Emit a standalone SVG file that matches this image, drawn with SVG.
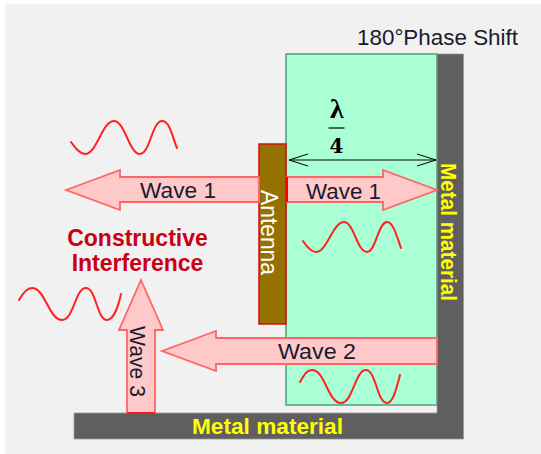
<svg xmlns="http://www.w3.org/2000/svg" width="541" height="454" viewBox="0 0 541 454">
<style>
text{font-family:"Liberation Sans",Arial,sans-serif}
.arrow{fill:#ffc9c9;stroke:#ff6464;stroke-width:1.8}
.wave{fill:none;stroke:#f22;stroke-width:2;stroke-linecap:round}
.wl{font-size:22px;fill:#1a1a2e}
.metal{fill:#5f5f5f;stroke:#999;stroke-width:.8}
.y{fill:#ff0;font-size:22px;font-weight:bold}
.r{fill:#c80014;font-size:23px;font-weight:bold;text-anchor:middle}
</style>
<defs><marker id="open" markerWidth="22" markerHeight="16" refX="20" refY="8" orient="auto-start-reverse" markerUnits="userSpaceOnUse"><path d="M1 2L20 8L1 14" fill="none" stroke="#000" stroke-width="1"/></marker></defs>
<rect width="541" height="454" fill="#fff"/>
<rect x="5" y="4" width="536" height="450" fill="#f1f1f1"/>
<g id="dielectric"><rect x="286" y="54" width="151" height="351" fill="#abffd5" stroke="#3f8f68" stroke-width="1.3"/></g>
<g id="metal-vertical"><path class="metal" d="M437 54H463.500V439H74V413H437Z"/><text class="y" transform="translate(441,163) rotate(90)" textLength="138" lengthAdjust="spacingAndGlyphs">Metal material</text></g>
<g id="metal-horizontal"><text class="y" x="192" y="433.500" textLength="151" lengthAdjust="spacingAndGlyphs">Metal material</text></g>
<g id="antenna"><rect x="259" y="144" width="27" height="180" fill="#967000" stroke="#d01010" stroke-width="1.500"/><text transform="translate(261,190) rotate(90)" fill="#fff" font-size="24" textLength="85" lengthAdjust="spacingAndGlyphs">Antenna</text></g>
<g id="phase-label"><text x="357" y="45" font-size="22" fill="#1a1a2e" textLength="161" lengthAdjust="spacingAndGlyphs">180°Phase Shift</text></g>
<g id="lambda-label"><text x="337" y="117.500" text-anchor="middle" font-size="28" font-weight="bold" style="font-family:'Liberation Serif',serif" fill="#000">λ</text><path d="M328.500 128H344.500" stroke="#000" stroke-width="1.200"/><text x="336.500" y="153" text-anchor="middle" font-size="20" font-weight="bold" style="font-family:'DejaVu Serif',serif" fill="#000">4</text></g>
<g id="interference-label"><text class="r" x="137.500" y="246">Constructive</text><text class="r" x="137.500" y="271">Interference</text></g>
<g id="wave-1-left"><path class="arrow" d="M66 190L120 170V177H259V202H120V210Z"/><text class="wl" x="140" y="198" textLength="76" lengthAdjust="spacingAndGlyphs">Wave 1</text></g>
<g id="wave-1-right"><path class="arrow" d="M287 177H383V170L437 190L383 210V202H287Z"/><path d="M287 177V202" stroke="#f00" stroke-width="2"/><text class="wl" x="306" y="198.500" textLength="75" lengthAdjust="spacingAndGlyphs">Wave 1</text></g>
<g id="wave-2"><path class="arrow" d="M162 351L216 331V338H437V364H216V371Z"/><text class="wl" x="278" y="358.500" textLength="78" lengthAdjust="spacingAndGlyphs">Wave 2</text></g>
<g id="wave-3"><path class="arrow" d="M141 280L163 330H155V413H127V330H119Z"/><path d="M127 413H155" stroke="#f00" stroke-width="1.500"/><text class="wl" transform="translate(130,326) rotate(90)" textLength="71" lengthAdjust="spacingAndGlyphs">Wave 3</text></g>
<g id="connectors"><line x1="289" y1="160" x2="436" y2="160" stroke="#000" stroke-width="1.200" marker-start="url(#open)" marker-end="url(#open)"/></g>
<g id="sine-waves">
<path class="wave" d="M71 142C76 149 80 154 85 154C97 154 102 121 114 121C125 121 129 154 140 154C150 154 152 121 162 121C170 121 172 136 177 148"/>
<path class="wave" d="M303 241C307 247 311 252 316 252C327 252 333 222 344 222C354 222 357 252 367 252C376 252 378 222 387 222C393 222 396 234 401 248"/>
<path class="wave" d="M300 382C304 375 307 370 312 370C325 370 328 403 341 403C353 403 355 370 366 370C376 370 377 403 387 403C393 403 396 390 400 375"/>
<path class="wave" d="M19 300C23 293 27 288 32 288C45 288 49 320 62 320C74 320 75 288 86 288C96 288 97 320 107 320C113 320 118 308 121 294"/>
</g>
</svg>
